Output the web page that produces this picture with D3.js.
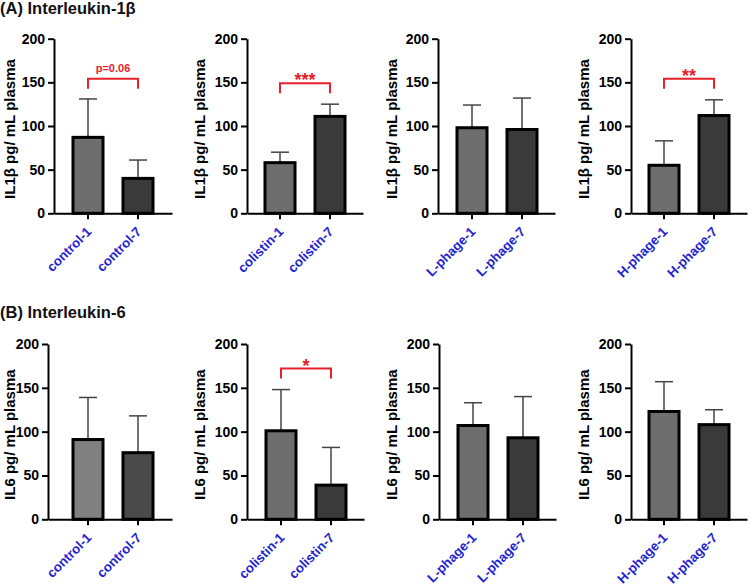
<!DOCTYPE html>
<html>
<head>
<meta charset="utf-8">
<script src="https://cdn.jsdelivr.net/npm/d3@7"></script>
<style>
  body { margin: 0; background: #fff; }
  svg { font-family: "Liberation Sans", Arial, sans-serif; }
</style>
</head>
<body>
<div id="chart"></div>
<script>
// groups per panel (same in both rows)
const groups = [
    ["control-1", "control-7"],
    ["colistin-1", "colistin-7"],
    ["L-phage-1", "L-phage-7"],
    ["H-phage-1", "H-phage-7"]
];

// Interleukin-1β means and SD (pg/mL)
const il1bMean = [[87, 40], [58, 111], [98, 96], [55, 112]];
const il1bSD = [[44, 21], [12, 14], [26, 36], [28, 18]];
const il1bSig = ["p=0.06", "***", null, "**"];
const il1bSigY = [154, 149, null, 154];

// Interleukin-6 means and SD (pg/mL)
const il6Mean = [[91, 76], [101, 39], [107, 93], [123, 108]];
const il6SD = [[48, 42], [47, 43], [26, 47], [34, 17]];
const il6Sig = [null, "*", null, null];
const il6SigY = [null, 172, null, null];

const yTicks = [0, 50, 100, 150, 200];

const width = 750, height = 586;

const svg = d3.select("#chart").append("svg")
    .attr("width", width)
    .attr("height", height);

// control group in panel B is a bit lighter
const fills = {
    A: [["#6e6e6e", "#3a3a3a"], ["#6e6e6e", "#3a3a3a"], ["#6e6e6e", "#3a3a3a"], ["#6e6e6e", "#3a3a3a"]],
    B: [["#808080", "#4a4a4a"], ["#6e6e6e", "#3a3a3a"], ["#6e6e6e", "#3a3a3a"], ["#6e6e6e", "#3a3a3a"]]
};

const rows = [
    {
        key: "A", title: "(A) Interleukin-1\u03b2", titleY: 14,
        yLabel: "IL1\u03b2 pg/ mL plasma",
        mean: il1bMean, sd: il1bSD, sig: il1bSig, sigY: il1bSigY,
        top: 38.7, bottom: 213.3,
        left: [54, 247, 438, 631], right: [172, 363, 555, 747], c1: [88, 280, 472, 664]
    },
    {
        key: "B", title: "(B) Interleukin-6", titleY: 318,
        yLabel: "IL6 pg/ mL plasma",
        mean: il6Mean, sd: il6SD, sig: il6Sig, sigY: il6SigY,
        top: 344, bottom: 519.3,
        left: [48, 247, 439, 631], right: [172, 364, 556, 747], c1: [88, 281, 473, 664]
    }
];
const labelX = [10, 200, 392, 584];

rows.forEach(function(row) {
    svg.append("text")
        .attr("x", 0)
        .attr("y", row.titleY)
        .attr("font-size", "16.5px")
        .attr("font-weight", "bold")
        .attr("fill", "#111")
        .text(row.title);

    const y = d3.scaleLinear()
        .domain([0, 200])
        .range([row.bottom, row.top]);

    groups.forEach(function(grp, i) {
        const left = row.left[i], right = row.right[i];
        const w = right - left;
        const step = 50;
        const pi = 0.4;
        const po = (w / step - (2 - pi)) / 2;
        const outer = w - step * (2 - pi);
        const align = (row.c1[i] - step * (1 - pi) / 2 - left) / outer;

        const x = d3.scaleBand()
            .domain(grp)
            .range([left, right])
            .paddingInner(pi)
            .paddingOuter(po)
            .align(align);

        const g = svg.append("g");

        const data = grp.map((name, j) => ({
            name: name,
            mean: row.mean[i][j],
            sd: row.sd[i][j],
            fill: fills[row.key][i][j]
        }));

        // error bars (upper only)
        g.selectAll(".err")
            .data(data)
            .enter().append("line")
            .attr("x1", d => x(d.name) + x.bandwidth() / 2)
            .attr("x2", d => x(d.name) + x.bandwidth() / 2)
            .attr("y1", d => y(d.mean))
            .attr("y2", d => y(d.mean + d.sd))
            .attr("stroke", "#444")
            .attr("stroke-width", 1.5);

        g.selectAll(".cap")
            .data(data)
            .enter().append("line")
            .attr("x1", d => x(d.name) + x.bandwidth() / 2 - 9)
            .attr("x2", d => x(d.name) + x.bandwidth() / 2 + 9)
            .attr("y1", d => y(d.mean + d.sd))
            .attr("y2", d => y(d.mean + d.sd))
            .attr("stroke", "#444")
            .attr("stroke-width", 1.5);

        // bars
        g.selectAll(".bar")
            .data(data)
            .enter().append("rect")
            .attr("x", d => x(d.name))
            .attr("y", d => y(d.mean))
            .attr("width", x.bandwidth())
            .attr("height", d => y(0) - y(d.mean))
            .attr("fill", d => d.fill)
            .attr("stroke", "#000")
            .attr("stroke-width", 3);

        // y axis
        const yAxis = g.append("g")
            .attr("transform", `translate(${left},0)`)
            .call(d3.axisLeft(y).tickValues(yTicks).tickSize(6).tickSizeOuter(0).tickPadding(3));
        yAxis.select(".domain").attr("stroke-width", 2);
        yAxis.selectAll(".tick line").attr("stroke-width", 2);
        yAxis.selectAll("text")
            .attr("font-size", "14px")
            .attr("font-weight", "bold")
            .attr("fill", "#000")
            .attr("font-family", "Liberation Sans, Arial, sans-serif");

        // x axis
        const xAxis = g.append("g")
            .attr("transform", `translate(0,${row.bottom})`)
            .call(d3.axisBottom(x).tickSize(6).tickSizeOuter(0).tickFormat(""));
        xAxis.select(".domain").attr("stroke-width", 2);
        xAxis.selectAll(".tick line").attr("stroke-width", 2);
        xAxis.selectAll(".tick").append("text")
            .attr("transform", "translate(1,16) rotate(-45)")
            .attr("text-anchor", "end")
            .attr("dy", "0.35em")
            .attr("font-size", "13.2px")
            .attr("font-weight", "bold")
            .attr("fill", "#2323d2")
            .attr("font-family", "Liberation Sans, Arial, sans-serif")
            .text(d => d);

        // y axis label
        g.append("text")
            .attr("transform", `translate(${labelX[i]},${(row.top + row.bottom) / 2 + 3}) rotate(-90)`)
            .attr("text-anchor", "middle")
            .attr("dy", "0.35em")
            .attr("font-size", "15px")
            .attr("font-weight", "bold")
            .attr("fill", "#000")
            .text(row.yLabel);

        // significance bracket
        if (row.sig[i]) {
            const cx1 = x(grp[0]) + x.bandwidth() / 2;
            const cx2 = x(grp[1]) + x.bandwidth() / 2;
            const by = y(row.sigY[i]);
            g.append("path")
                .attr("d", d3.line()([[cx1, by + 10], [cx1, by], [cx2, by], [cx2, by + 10]]))
                .attr("fill", "none")
                .attr("stroke", "#e8202a")
                .attr("stroke-width", 2);
            const isStar = row.sig[i].startsWith("*");
            g.append("text")
                .attr("x", (cx1 + cx2) / 2)
                .attr("y", isStar ? by + 3 : by - 7)
                .attr("text-anchor", "middle")
                .attr("font-size", isStar ? "18px" : "11px")
                .attr("font-weight", "bold")
                .attr("fill", "#e8202a")
                .text(row.sig[i]);
        }
    });
});
</script>
</body>
</html>
